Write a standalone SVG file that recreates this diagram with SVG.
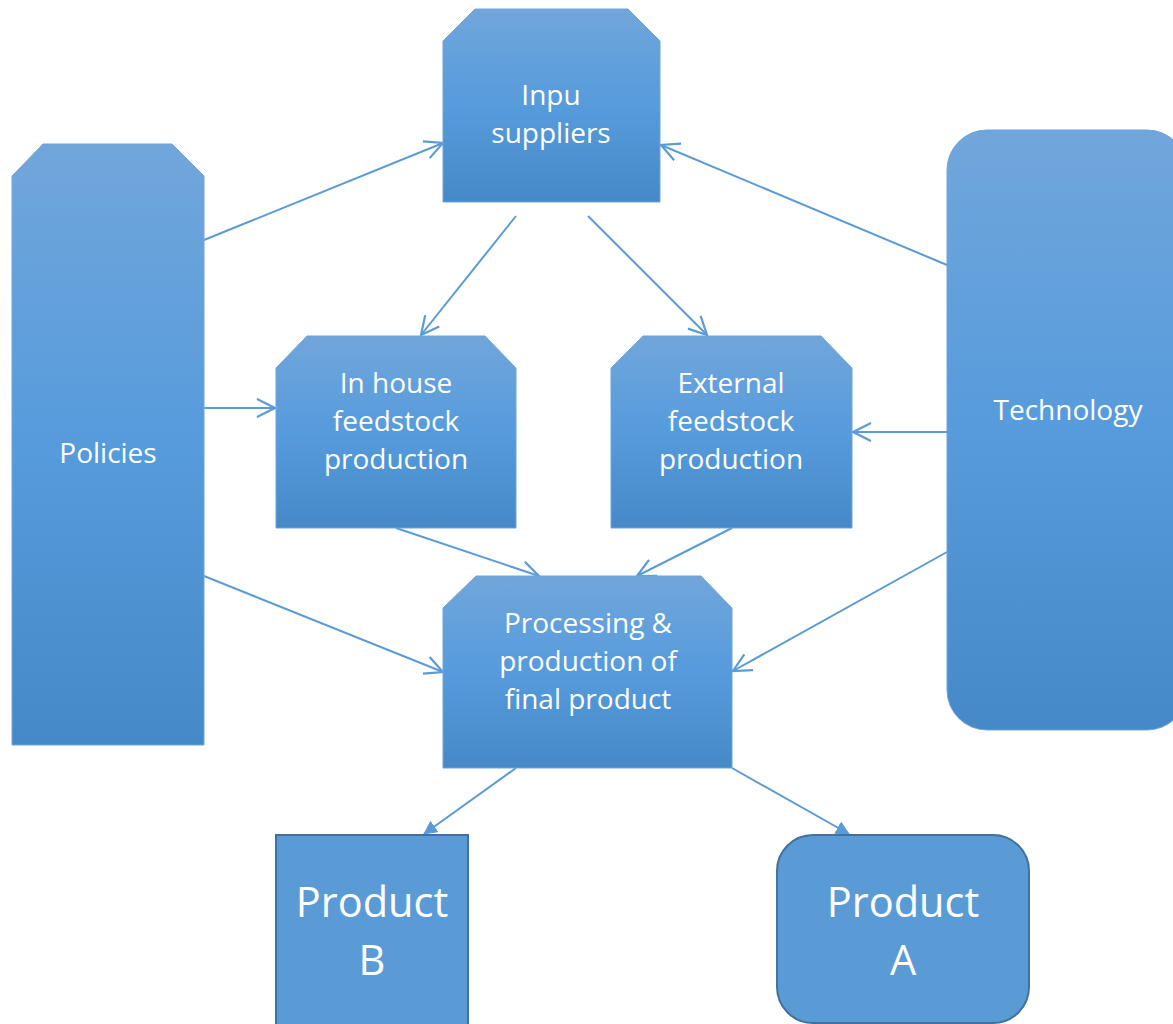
<svg xmlns="http://www.w3.org/2000/svg" width="1173" height="1024" viewBox="0 0 1173 1024">
  <defs>
    <linearGradient id="g" x1="0" y1="0" x2="0" y2="1">
      <stop offset="0" stop-color="#71A6DB"/>
      <stop offset="0.5" stop-color="#569BDC"/>
      <stop offset="1" stop-color="#4689C8"/>
    </linearGradient>
    <marker id="open" viewBox="0 0 20 20" refX="19" refY="10" markerWidth="20" markerHeight="20" markerUnits="userSpaceOnUse" orient="auto">
      <path d="M1,1 L19,10 L1,19" fill="none" stroke="#5B9BD5" stroke-width="2.2"/>
    </marker>
    <marker id="tri" viewBox="0 0 14 14" refX="13" refY="7" markerWidth="14" markerHeight="14" markerUnits="userSpaceOnUse" orient="auto">
      <path d="M0,0 L14,7 L0,14 Z" fill="#5B9BD5"/>
    </marker>
  </defs>
  <style>
    .box { fill: url(#g); stroke: #6FA4D9; stroke-width: 1; }
    .prod { fill: #5B9BD5; stroke: #41719C; stroke-width: 2; }
    .t { font-family: "Open Sans", "Noto Sans", sans-serif; font-size: 28px; fill: #FFFFFF; text-anchor: middle; }
    .big { font-family: "Open Sans", "Noto Sans", sans-serif; font-size: 41.5px; fill: #FFFFFF; text-anchor: middle; }
    .c { stroke: #5B9BD5; stroke-width: 2; fill: none; }
    .co { marker-end: url(#open); }
    .ct { marker-end: url(#tri); }
  </style>
  <rect width="1173" height="1024" fill="#FFFFFF"/>

  <g id="connectors">
    <line class="c co" x1="204" y1="240" x2="443" y2="143"/>
    <line class="c co" x1="204" y1="408" x2="275" y2="408"/>
    <line class="c co" x1="204" y1="576" x2="443" y2="672"/>
    <line class="c co" x1="516" y1="216" x2="421" y2="335"/>
    <line class="c co" x1="588" y1="216" x2="707" y2="335"/>
    <line class="c co" x1="947" y1="265" x2="661" y2="145"/>
    <line class="c co" x1="947" y1="432" x2="853" y2="432"/>
    <line class="c co" x1="947" y1="552" x2="733" y2="671"/>
    <line class="c co" x1="396" y1="528" x2="539" y2="576"/>
    <line class="c co" x1="732" y1="528" x2="637" y2="576"/>
    <line class="c ct" x1="516" y1="768" x2="424" y2="834"/>
    <line class="c ct" x1="732" y1="768" x2="849" y2="834"/>
  </g>

  <g id="node-inpu">
    <path class="box" d="M475,9 L628,9 L660,41 L660,202 L443,202 L443,41 Z"/>
    <text class="t" x="551" y="105">Inpu</text>
    <text class="t" x="551" y="143">suppliers</text>
  </g>

  <g id="node-policies">
    <path class="box" d="M43,144 L172,144 L204,176 L204,745 L12,745 L12,176 Z"/>
    <text class="t" x="108" y="463">Policies</text>
  </g>

  <g id="node-inhouse">
    <path class="box" d="M307,336 L485,336 L516,368 L516,528 L276,528 L276,368 Z"/>
    <text class="t" x="396" y="393">In house</text>
    <text class="t" x="396" y="431">feedstock</text>
    <text class="t" x="396" y="469">production</text>
  </g>

  <g id="node-external">
    <path class="box" d="M643,336 L821,336 L852,368 L852,528 L611,528 L611,368 Z"/>
    <text class="t" x="731" y="393">External</text>
    <text class="t" x="731" y="431">feedstock</text>
    <text class="t" x="731" y="469">production</text>
  </g>

  <g id="node-technology">
    <rect class="box" x="947" y="130" width="240" height="600" rx="40" ry="40"/>
    <text class="t" x="1068" y="420">Technology</text>
  </g>

  <g id="node-processing">
    <path class="box" d="M476,576 L701,576 L732,608 L732,768 L443,768 L443,608 Z"/>
    <text class="t" x="588" y="633">Processing &amp;</text>
    <text class="t" x="588" y="671">production of</text>
    <text class="t" x="588" y="709">final product</text>
  </g>

  <g id="node-productB">
    <rect class="prod" x="276" y="835" width="192" height="200"/>
    <text class="big" x="372" y="917">Product</text>
    <text class="big" x="372" y="975">B</text>
  </g>

  <g id="node-productA">
    <rect class="prod" x="777" y="835" width="252" height="188" rx="36" ry="36"/>
    <text class="big" x="903" y="917">Product</text>
    <text class="big" x="903" y="975">A</text>
  </g>
</svg>
